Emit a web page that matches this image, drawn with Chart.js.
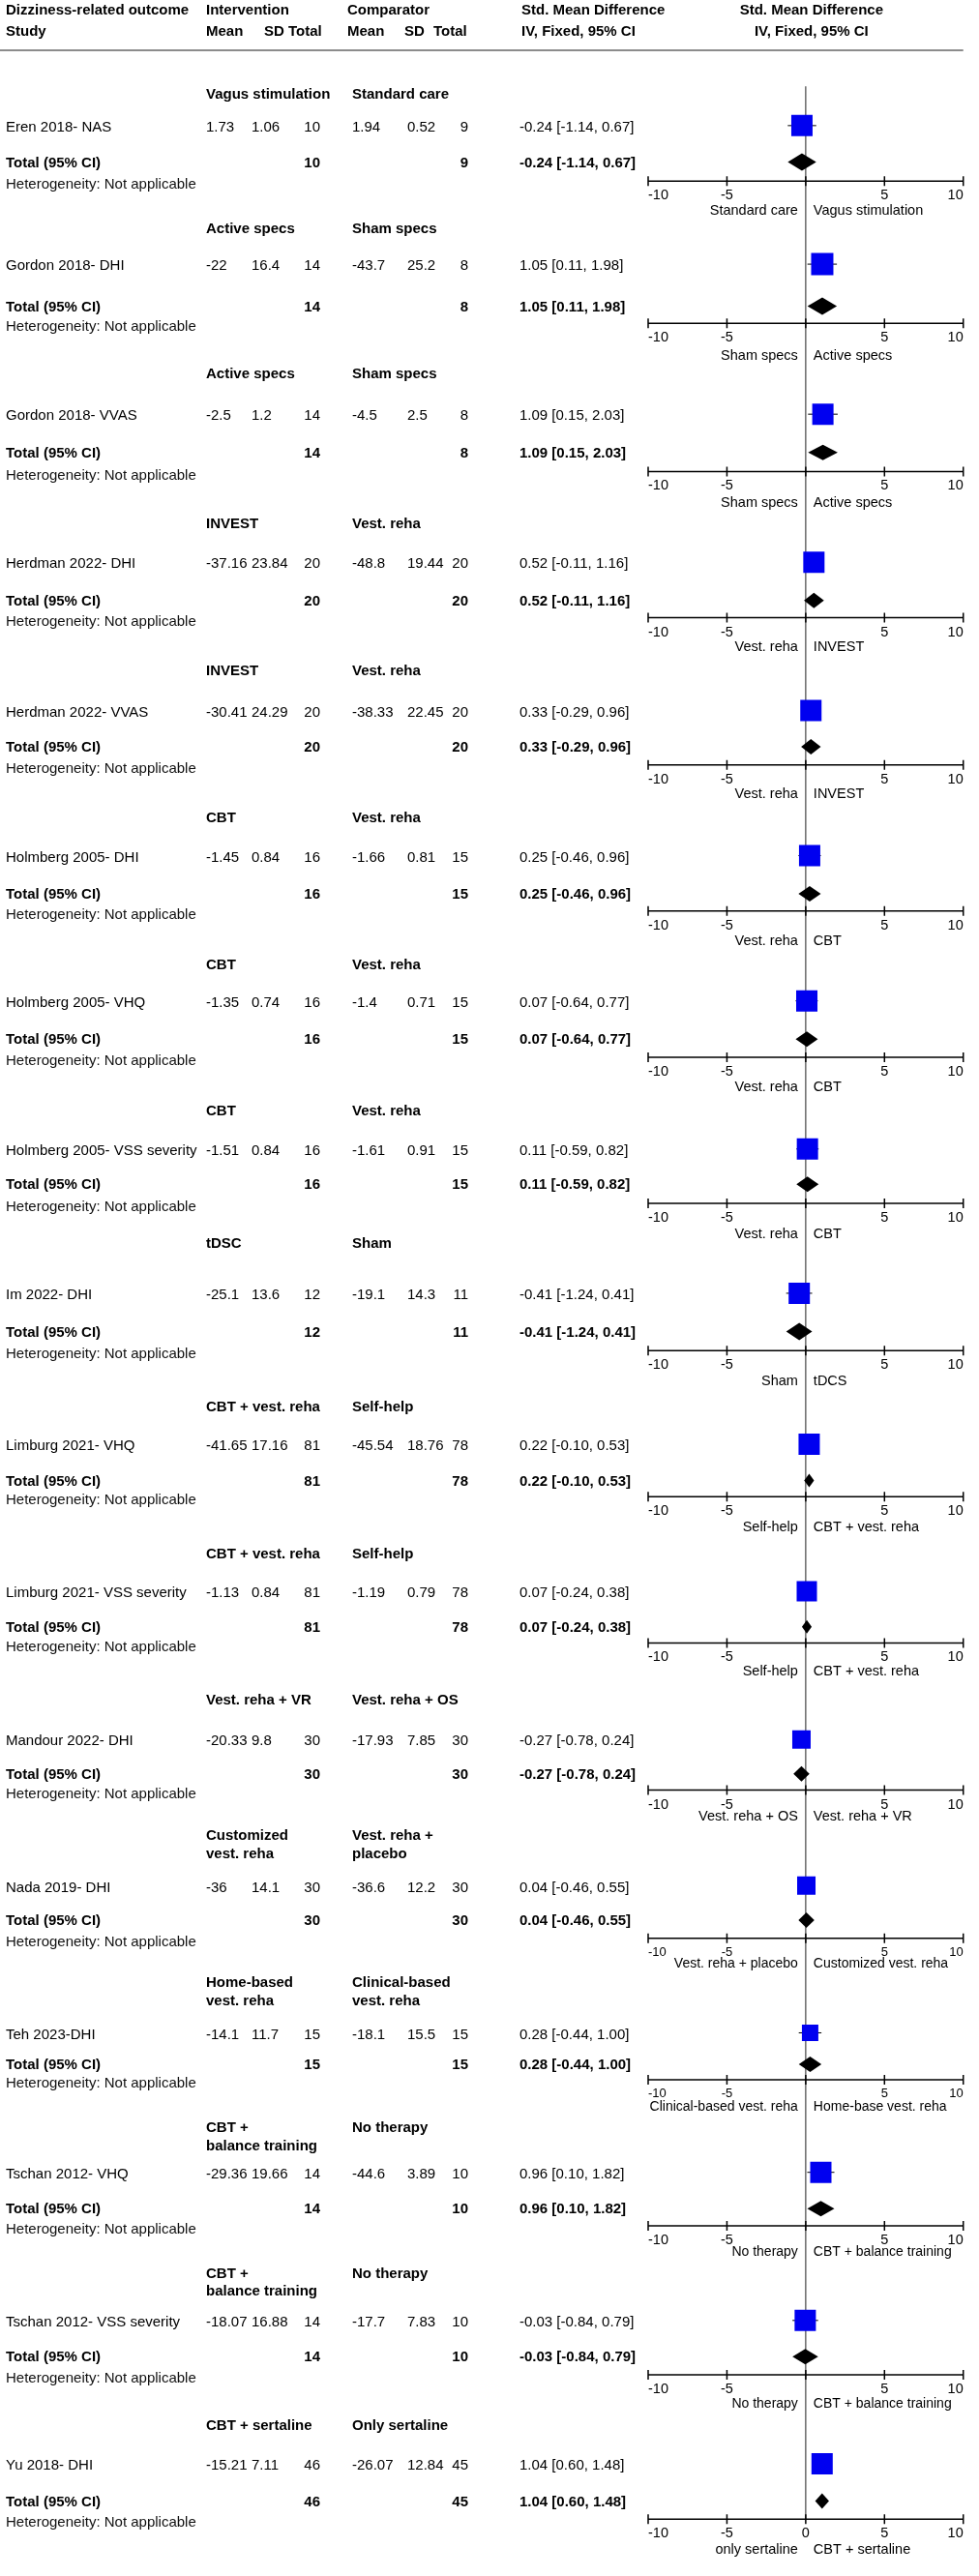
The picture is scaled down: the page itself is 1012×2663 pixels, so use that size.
<!DOCTYPE html>
<html lang="en">
<head>
<meta charset="UTF-8">
<title>Dizziness-related outcome - forest plot</title>
<script src="https://cdn.jsdelivr.net/npm/chart.js"></script>
<style>
  html, body { margin: 0; padding: 0; background: #fff; }
  #forest { display: block; }
</style>
</head>
<body>
<canvas id="forest" width="1012" height="2663"></canvas>
<script>
// ---- data ----
const studies = [
  "Eren 2018- NAS", "Gordon 2018- DHI", "Gordon 2018- VVAS", "Herdman 2022- DHI",
  "Herdman 2022- VVAS", "Holmberg 2005- DHI", "Holmberg 2005- VHQ", "Holmberg 2005- VSS severity",
  "Im 2022- DHI", "Limburg 2021- VHQ", "Limburg 2021- VSS severity", "Mandour 2022- DHI",
  "Nada 2019- DHI", "Teh 2023-DHI", "Tschan 2012- VHQ", "Tschan 2012- VSS severity", "Yu 2018- DHI"
];
const interventionGroups = [
  "Vagus stimulation", "Active specs", "Active specs", "INVEST", "INVEST", "CBT", "CBT", "CBT",
  "tDSC", "CBT + vest. reha", "CBT + vest. reha", "Vest. reha + VR", "Customized\nvest. reha",
  "Home-based\nvest. reha", "CBT +\nbalance training", "CBT +\nbalance training", "CBT + sertaline"
];
const comparatorGroups = [
  "Standard care", "Sham specs", "Sham specs", "Vest. reha", "Vest. reha", "Vest. reha", "Vest. reha",
  "Vest. reha", "Sham", "Self-help", "Self-help", "Vest. reha + OS", "Vest. reha +\nplacebo",
  "Clinical-based\nvest. reha", "No therapy", "No therapy", "Only sertaline"
];
const intMean = [1.73, -22, -2.5, -37.16, -30.41, -1.45, -1.35, -1.51, -25.1, -41.65, -1.13, -20.33, -36, -14.1, -29.36, -18.07, -15.21];
const intSD   = [1.06, 16.4, 1.2, 23.84, 24.29, 0.84, 0.74, 0.84, 13.6, 17.16, 0.84, 9.8, 14.1, 11.7, 19.66, 16.88, 7.11];
const intN    = [10, 14, 14, 20, 20, 16, 16, 16, 12, 81, 81, 30, 30, 15, 14, 14, 46];
const cmpMean = [1.94, -43.7, -4.5, -48.8, -38.33, -1.66, -1.4, -1.61, -19.1, -45.54, -1.19, -17.93, -36.6, -18.1, -44.6, -17.7, -26.07];
const cmpSD   = [0.52, 25.2, 2.5, 19.44, 22.45, 0.81, 0.71, 0.91, 14.3, 18.76, 0.79, 7.85, 12.2, 15.5, 3.89, 7.83, 12.84];
const cmpN    = [9, 8, 8, 20, 20, 15, 15, 15, 11, 78, 78, 30, 30, 15, 10, 10, 45];
const smd     = [-0.24, 1.05, 1.09, 0.52, 0.33, 0.25, 0.07, 0.11, -0.41, 0.22, 0.07, -0.27, 0.04, 0.28, 0.96, -0.03, 1.04];
const ciLow   = [-1.14, 0.11, 0.15, -0.11, -0.29, -0.46, -0.64, -0.59, -1.24, -0.10, -0.24, -0.78, -0.46, -0.44, 0.10, -0.84, 0.60];
const ciHigh  = [0.67, 1.98, 2.03, 1.16, 0.96, 0.96, 0.77, 0.82, 0.41, 0.53, 0.38, 0.24, 0.55, 1.00, 1.82, 0.79, 1.48];
const favoursLeft = [
  "Standard care", "Sham specs", "Sham specs", "Vest. reha", "Vest. reha", "Vest. reha", "Vest. reha",
  "Vest. reha", "Sham", "Self-help", "Self-help", "Vest. reha + OS", "Vest. reha + placebo",
  "Clinical-based vest. reha", "No therapy", "No therapy", "only sertaline"
];
const favoursRight = [
  "Vagus stimulation", "Active specs", "Active specs", "INVEST", "INVEST", "CBT", "CBT", "CBT",
  "tDCS", "CBT + vest. reha", "CBT + vest. reha", "Vest. reha + VR", "Customized vest. reha",
  "Home-base vest. reha", "CBT + balance training", "CBT + balance training", "CBT + sertaline"
];
const tickValues = [-10, -5, 0, 5, 10];

// ---- layout (vertical positions on the page, y scale is in px) ----
const headY  = [83, 223, 375, 532, 686, 840, 994, 1147, 1285, 1456, 1610, 1763, 1905, 2059, 2211, 2363, 2522];
const rowY   = [115, 260, 417, 572, 727, 879, 1031, 1186, 1337, 1495, 1649, 1804, 1957, 2111, 2257, 2412, 2562];
const totalY = [153, 304, 457, 612, 765, 919, 1071, 1223, 1377, 1533, 1686, 1840, 1993, 2144, 2295, 2450, 2601];
const axisY  = [173, 322, 477, 630, 784, 937, 1090, 1243, 1397, 1550, 1703, 1857, 2012, 2160, 2313, 2469, 2620];
const labelY = [204, 356, 510, 661, 815, 969, 1121, 1275, 1429, 1582, 1733, 1885, 2039, 2189, 2340, 2499, 2652];
const squareSide = [22, 23, 22, 22, 22, 22, 22, 22, 22, 22, 21, 19, 19, 17, 22, 22, 22];
const diamondHalf = [9, 9, 8, 8, 8, 8, 8, 8, 9, 7, 7, 8, 8, 8, 8, 8, 8];

const FONT = '"Liberation Sans", Arial, Helvetica, sans-serif';
const BLUE = '#0000f0';

function txt(ctx, s, x, y, opts) {
  const o = Object.assign({ bold: false, size: 15, align: 'left', color: '#000' }, opts || {});
  ctx.font = (o.bold ? 'bold ' : '') + o.size + 'px ' + FONT;
  ctx.fillStyle = o.color;
  ctx.textAlign = o.align;
  ctx.textBaseline = 'middle';
  ctx.fillText(s, x, y);
}

const forestPlugin = {
  id: 'forestText',
  afterDatasetsDraw(chart) {
    const { ctx, scales: { x, y } } = chart;
    ctx.save();

    // column headers
    txt(ctx, 'Dizziness-related outcome', 6, 11, { bold: true });
    txt(ctx, 'Study', 6, 33, { bold: true });
    txt(ctx, 'Intervention', 213, 11, { bold: true });
    txt(ctx, 'Comparator', 359, 11, { bold: true });
    txt(ctx, 'Mean', 213, 33, { bold: true });
    txt(ctx, 'SD', 273, 33, { bold: true });
    txt(ctx, 'Total', 298, 33, { bold: true });
    txt(ctx, 'Mean', 359, 33, { bold: true });
    txt(ctx, 'SD', 418, 33, { bold: true });
    txt(ctx, 'Total', 448, 33, { bold: true });
    txt(ctx, 'Std. Mean Difference', 539, 11, { bold: true });
    txt(ctx, 'IV, Fixed, 95% CI', 539, 33, { bold: true });
    const zeroPx = x.getPixelForValue(0);
    txt(ctx, 'Std. Mean Difference', zeroPx + 6, 11, { bold: true, align: 'center' });
    txt(ctx, 'IV, Fixed, 95% CI', zeroPx + 6, 33, { bold: true, align: 'center' });

    ctx.strokeStyle = '#666';
    ctx.lineWidth = 1.5;
    ctx.beginPath();
    ctx.moveTo(0, 52);
    ctx.lineTo(x.getPixelForValue(10), 52);
    ctx.stroke();

    studies.forEach((name, i) => {
      // group headers (may be two lines)
      interventionGroups[i].split('\n').forEach((ln, k) => txt(ctx, ln, 213, y.getPixelForValue(headY[i] + k * 19), { bold: true }));
      comparatorGroups[i].split('\n').forEach((ln, k) => txt(ctx, ln, 364, y.getPixelForValue(headY[i] + k * 19), { bold: true }));

      // study row
      const ry = y.getPixelForValue(rowY[i]) + 2;
      txt(ctx, name, 6, ry);
      txt(ctx, String(intMean[i]), 213, ry);
      txt(ctx, String(intSD[i]), 260, ry);
      txt(ctx, String(intN[i]), 331, ry, { align: 'right' });
      txt(ctx, String(cmpMean[i]), 364, ry);
      txt(ctx, String(cmpSD[i]), 421, ry);
      txt(ctx, String(cmpN[i]), 484, ry, { align: 'right' });
      const ci = smd[i].toFixed(2) + ' [' + ciLow[i].toFixed(2) + ', ' + ciHigh[i].toFixed(2) + ']';
      txt(ctx, ci, 537, ry);

      // total row
      const ty = y.getPixelForValue(totalY[i]) + 1;
      txt(ctx, 'Total (95% CI)', 6, ty, { bold: true });
      txt(ctx, String(intN[i]), 331, ty, { bold: true, align: 'right' });
      txt(ctx, String(cmpN[i]), 484, ty, { bold: true, align: 'right' });
      txt(ctx, ci, 537, ty, { bold: true });

      const ay = y.getPixelForValue(axisY[i]);
      txt(ctx, 'Heterogeneity: Not applicable', 6, ay + 4, { color: '#111' });

      // pooled diamond
      const h = diamondHalf[i];
      const dy = y.getPixelForValue(totalY[i]);
      ctx.fillStyle = '#000';
      ctx.beginPath();
      ctx.moveTo(x.getPixelForValue(ciLow[i]), dy);
      ctx.lineTo(x.getPixelForValue(smd[i]), dy - h);
      ctx.lineTo(x.getPixelForValue(ciHigh[i]), dy);
      ctx.lineTo(x.getPixelForValue(smd[i]), dy + h);
      ctx.closePath();
      ctx.fill();

      // axis
      ctx.strokeStyle = '#000';
      ctx.lineWidth = 1.5;
      ctx.beginPath();
      ctx.moveTo(x.getPixelForValue(tickValues[0]), ay);
      ctx.lineTo(x.getPixelForValue(tickValues[tickValues.length - 1]), ay);
      tickValues.forEach(t => {
        const tx = x.getPixelForValue(t);
        ctx.moveTo(tx, ay - 5);
        ctx.lineTo(tx, ay + 5);
      });
      ctx.stroke();
      const small = i >= 12 && i <= 13;
      tickValues.forEach((t, k) => {
        if (t === 0 && i !== studies.length - 1) return;
        const align = k === 0 ? 'left' : (k === tickValues.length - 1 ? 'right' : 'center');
        txt(ctx, String(t), x.getPixelForValue(t), ay + 15, { align, size: small ? 13 : 14.5 });
      });

      // favours labels
      const ly = y.getPixelForValue(labelY[i]);
      const lsize = (i >= 12 && i <= 15) ? 14 : 14.5;
      txt(ctx, favoursLeft[i], zeroPx - 8, ly, { align: 'right', size: lsize });
      txt(ctx, favoursRight[i], zeroPx + 8, ly, { size: lsize });
    });

    ctx.restore();
  }
};

const whiskers = studies.map((s, i) => ({
  type: 'scatter',
  showLine: true,
  data: [{ x: ciLow[i], y: rowY[i] }, { x: ciHigh[i], y: rowY[i] }],
  borderColor: '#000',
  borderWidth: 1,
  pointRadius: 0,
  order: 2
}));

new Chart(document.getElementById('forest'), {
  type: 'scatter',
  data: {
    datasets: [
      {
        label: 'Std. Mean Difference',
        data: studies.map((s, i) => ({ x: smd[i], y: rowY[i] })),
        pointStyle: 'rect',
        pointRadius: squareSide.map(v => v / Math.SQRT2),
        backgroundColor: BLUE,
        borderColor: BLUE,
        borderWidth: 0,
        order: 0
      },
      ...whiskers,
      {
        label: 'No effect',
        showLine: true,
        data: [{ x: 0, y: 74 }, { x: 0, y: axisY[axisY.length - 1] }],
        borderColor: '#444',
        borderWidth: 1.2,
        pointRadius: 0,
        order: 3
      }
    ]
  },
  options: {
    responsive: false,
    animation: false,
    devicePixelRatio: 1,
    layout: { padding: { left: 670, right: 8, top: 0, bottom: 0 } },
    plugins: { legend: { display: false }, tooltip: { enabled: false } },
    scales: {
      x: { type: 'linear', min: -10, max: 10, display: false },
      y: { type: 'linear', min: 0, max: 2663, reverse: true, display: false }
    }
  },
  plugins: [forestPlugin]
});
</script>
</body>
</html>
